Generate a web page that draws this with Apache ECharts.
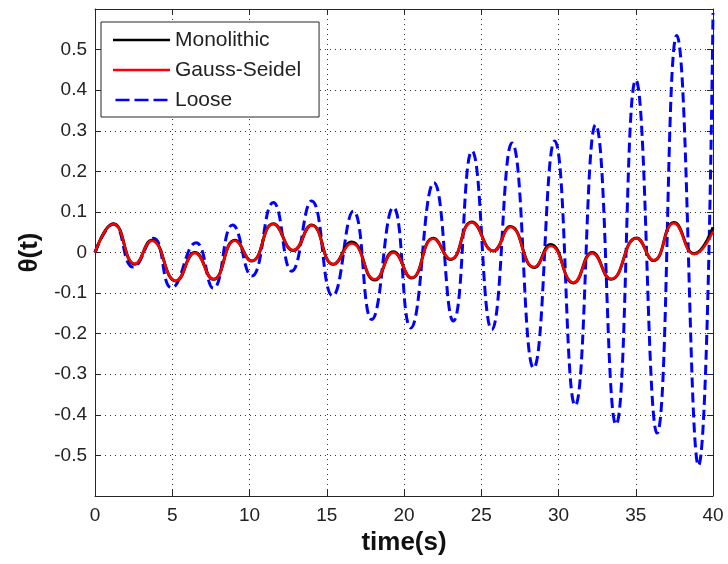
<!DOCTYPE html>
<html>
<head>
<meta charset="utf-8">
<title>theta(t)</title>
<script src="https://cdn.jsdelivr.net/npm/echarts@6/dist/echarts.min.js"></script>
<style>
  html, body { margin: 0; padding: 0; background: #fff; }
  #chart { width: 728px; height: 564px; }
</style>
</head>
<body>
<div id="chart"></div>
<script>
// 读图得到的极值点 [time, theta]
var monolithic = [
    [0, 0], [1.19, 0.071], [2.59, -0.029], [3.67, 0.030], [5.24, -0.070], [6.47, 0.0],
    [7.66, -0.066], [9.06, 0.030], [10.14, -0.021], [11.54, 0.071], [12.84, 0.005],
    [14.02, 0.068], [15.43, -0.029], [16.61, 0.026], [18.12, -0.068], [19.31, 0.002],
    [20.49, -0.063], [21.9, 0.035], [23.02, -0.017], [24.38, 0.075], [25.78, 0.004],
    [26.88, 0.064], [28.43, -0.037], [29.49, 0.020], [30.97, -0.075], [32.18, 0.0],
    [33.40, -0.066], [35.05, 0.036], [36.15, -0.020], [37.47, 0.074], [38.79, -0.003],
    [40, 0.062]
];
var gaussSeidel = [
    [0, 0], [1.19, 0.070], [2.59, -0.028], [3.67, 0.029], [5.24, -0.070], [6.47, -0.001],
    [7.66, -0.066], [9.06, 0.029], [10.14, -0.021], [11.54, 0.070], [12.84, 0.006],
    [14.02, 0.067], [15.43, -0.029], [16.61, 0.022], [18.12, -0.066], [19.31, 0.0],
    [20.49, -0.062], [21.9, 0.034], [23.02, -0.016], [24.38, 0.074], [25.78, 0.004],
    [26.88, 0.063], [28.43, -0.036], [29.49, 0.016], [30.97, -0.074], [32.18, -0.002],
    [33.40, -0.065], [35.05, 0.035], [36.15, -0.019], [37.47, 0.072], [38.79, -0.004],
    [40, 0.052]
];
var loose = [
    [0, 0], [1.2, 0.070], [2.48, -0.036], [3.78, 0.035], [4.96, -0.087], [6.54, 0.024],
    [7.66, -0.088], [8.91, 0.068], [10.14, -0.058], [11.54, 0.123], [12.73, -0.046],
    [14.02, 0.127], [15.38, -0.107], [16.72, 0.102], [17.91, -0.165], [19.31, 0.111],
    [20.43, -0.186], [21.94, 0.172], [23.19, -0.169], [24.4, 0.250], [25.68, -0.190],
    [26.99, 0.270], [28.39, -0.285], [29.75, 0.275], [31.08, -0.377], [32.4, 0.315],
    [33.72, -0.424], [35.0, 0.425], [36.38, -0.445], [37.65, 0.535], [39.06, -0.525],
    [40, 0.59]
];
var xTicks = [0, 5, 10, 15, 20, 25, 30, 35, 40];
var yTicks = [-0.5, -0.4, -0.3, -0.2, -0.1, 0, 0.1, 0.2, 0.3, 0.4, 0.5];

var chart = echarts.init(document.getElementById('chart'));
var font = "'Liberation Sans', Arial, sans-serif";
var axisColor = '#262626';
var gridLine = { show: true, lineStyle: { color: '#333', width: 1, type: [1, 4] } };
var boxLine = { show: true, onZero: false, lineStyle: { color: axisColor, width: 1 } };
var tick = { inside: true, length: 6, lineStyle: { color: axisColor } };

// 图例图标：实线 / 虚线
var solidIcon = 'path://M0,0H57V2.5H0Z';
var dashIcon = 'path://M0,0H14V2.5H0Z M19,0H33V2.5H19Z M38,0H52V2.5H38Z';

function yLabel(v) {
    var r = Math.round(v * 10) / 10;
    return yTicks.indexOf(r) >= 0 ? String(r) : '';
}

var option = {
    animation: false,
    backgroundColor: '#fff',
    textStyle: { fontFamily: font },
    grid: { left: 95, right: 15, top: 9, bottom: 68 },
    legend: {
        orient: 'vertical',
        left: 101,
        top: 22,
        padding: [6, 18, 5, 12],
        itemWidth: 57,
        itemHeight: 2.5,
        itemGap: 6,
        borderColor: axisColor,
        borderWidth: 1,
        backgroundColor: '#fff',
        textStyle: { fontFamily: font, fontSize: 21, color: '#222', lineHeight: 24 },
        data: [
            { name: 'Monolithic', icon: solidIcon },
            { name: 'Gauss-Seidel', icon: solidIcon },
            { name: 'Loose', icon: dashIcon }
        ]
    },
    xAxis: [{
        type: 'value',
        min: 0, max: 40, interval: 5,
        name: 'time(s)',
        nameLocation: 'middle',
        nameGap: 30,
        nameTextStyle: { fontFamily: font, fontSize: 26, fontWeight: 'bold', color: '#111' },
        axisLine: boxLine,
        axisTick: tick,
        axisLabel: { fontSize: 19, color: '#222', margin: 10, fontFamily: font },
        splitLine: gridLine
    }, {
        type: 'value', position: 'top',
        min: 0, max: 40, interval: 5,
        axisLine: boxLine,
        axisTick: tick,
        axisLabel: { show: false },
        splitLine: { show: false }
    }],
    yAxis: [{
        type: 'value',
        min: -0.6, max: 0.6, interval: 0.1,
        name: 'θ(t)',
        nameLocation: 'middle',
        nameGap: 52,
        nameTextStyle: { fontFamily: font, fontSize: 26, fontWeight: 'bold', color: '#111' },
        axisLine: boxLine,
        axisTick: tick,
        axisLabel: { fontSize: 19, color: '#222', margin: 8, fontFamily: font, formatter: yLabel },
        splitLine: gridLine
    }, {
        type: 'value', position: 'right',
        min: -0.6, max: 0.6, interval: 0.1,
        axisLine: boxLine,
        axisTick: tick,
        axisLabel: { show: false },
        splitLine: { show: false }
    }],
    series: [{
        name: 'Loose',
        type: 'line',
        data: loose,
        smooth: 0.5,
        symbol: 'none',
        z: 1,
        lineStyle: { color: '#0000ff', width: 3, type: [10, 5] },
        itemStyle: { color: '#0000ff' }
    }, {
        name: 'Monolithic',
        type: 'line',
        data: monolithic,
        smooth: 0.5,
        symbol: 'none',
        z: 2,
        lineStyle: { color: '#000', width: 3 },
        itemStyle: { color: '#000' }
    }, {
        name: 'Gauss-Seidel',
        type: 'line',
        data: gaussSeidel,
        smooth: 0.5,
        symbol: 'none',
        z: 3,
        lineStyle: { color: '#ff0000', width: 2.5 },
        itemStyle: { color: '#ff0000' }
    }]
};

chart.setOption(option);
</script>
</body>
</html>
